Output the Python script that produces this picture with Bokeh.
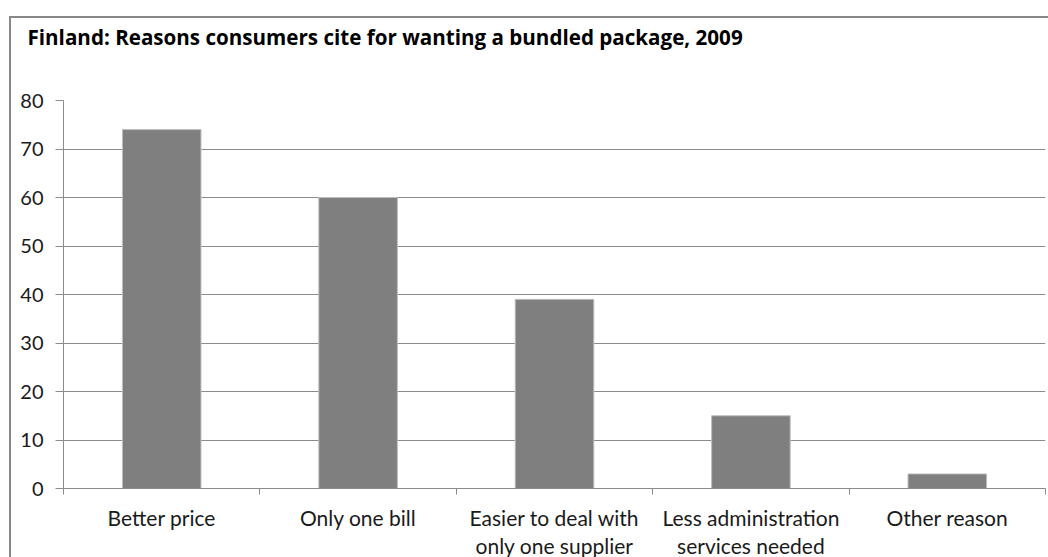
from bokeh.plotting import figure
from bokeh.models import Range1d, FixedTicker, InlineStyleSheet
from bokeh.embed import file_html
from bokeh.resources import INLINE

title = "Finland: Reasons consumers cite for wanting a bundled package, 2009"
categories = ["Better price", "Only one bill", "Easier to deal with\nonly one supplier",
              "Less administration\nservices needed", "Other reason"]
values = [74, 60, 39, 15, 3]
y_ticks = [0, 10, 20, 30, 40, 50, 60, 70, 80]

n = len(categories)
centers = [i + 0.5 for i in range(n)]
bounds = list(range(n + 1))

FONT = "Lato"
GRID = "#8c8c8c"

p = figure(width=1039, height=543, output_backend="svg", toolbar_location=None,
           x_range=Range1d(0, n), y_range=Range1d(0, 80),
           min_border_left=52, min_border_right=5, min_border_top=82, min_border_bottom=68)
p.margin = (16, 0, 0, 9)
p.stylesheets = [InlineStyleSheet(css=":host { border-left: 2px solid #888888; border-top: 2px solid #888888; }")]

p.vbar(x=centers, top=values, width=0.4, fill_color="#7f7f7f", line_color="#bdbdbd", line_width=1)

p.title.text = title + "\n\n"
p.title.text_font = "Open Sans"
p.title.text_font_size = "20.6px"
p.title.text_font_style = "bold"
p.title.text_line_height = 0.85
p.title.text_color = "#000000"
p.title.align = "left"
p.title.offset = -36
p.title.standoff = 4

p.outline_line_color = None
p.xgrid.visible = False
p.ygrid.ticker = FixedTicker(ticks=y_ticks)
p.ygrid.grid_line_color = GRID
p.ygrid.grid_line_width = 1

xa = p.xaxis[0]
xa.ticker = FixedTicker(ticks=centers, minor_ticks=bounds)
xa.major_label_overrides = {c: lab for c, lab in zip(centers, categories)}
xa.major_tick_out = 0
xa.major_tick_in = 0
xa.minor_tick_out = 6
xa.minor_tick_in = 0
xa.minor_tick_line_color = GRID
xa.axis_line_color = GRID
xa.major_label_standoff = 10
xa.major_label_text_font = FONT
xa.major_label_text_font_size = "21px"
xa.major_label_text_line_height = 1.15
xa.major_label_text_color = "#1a1a1a"

ya = p.yaxis[0]
ya.ticker = FixedTicker(ticks=y_ticks)
ya.minor_tick_line_color = None
ya.major_tick_out = 8
ya.major_tick_in = 0
ya.major_tick_line_color = GRID
ya.axis_line_color = GRID
ya.major_label_standoff = 12
ya.major_label_text_font = FONT
ya.major_label_text_font_size = "20px"
ya.major_label_text_color = "#1a1a1a"

open("out.html", "w").write(file_html(p, INLINE))
